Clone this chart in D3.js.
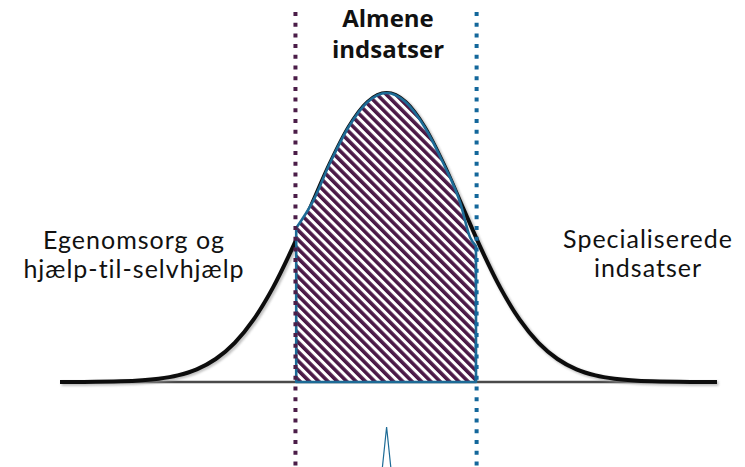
<!DOCTYPE html>
<html>
<head>
<meta charset="utf-8">
<script src="https://cdn.jsdelivr.net/npm/d3@7"></script>
<style>
  html, body { margin: 0; padding: 0; background: #fff; }
  svg { display: block; }
</style>
</head>
<body>
<svg id="chart" width="745" height="467"></svg>
<script>
// ---- data ----
// bell curve: position in standard units and relative height
const curveZ = [-4.3, -4, -3.5, -3, -2.75, -2.5, -2.25, -2, -1.75, -1.5, -1.25, -1, -0.75, -0.5, -0.25, 0,
                0.25, 0.5, 0.75, 1, 1.25, 1.5, 1.75, 2, 2.25, 2.5, 2.75, 3, 3.5, 4, 4.35];
const curveH = [0, 0.0003, 0.0022, 0.0111, 0.0228, 0.0439, 0.0796, 0.1353, 0.2165, 0.3247, 0.4578, 0.6065, 0.7548, 0.8825, 0.9692, 1,
                0.9692, 0.8825, 0.7548, 0.6065, 0.4578, 0.3247, 0.2165, 0.1353, 0.0796, 0.0439, 0.0228, 0.0111, 0.0022, 0.0003, 0];
// shaded "almene indsatser" band (outline as drawn)
const shadeZ = [-1.19, -0.97, -0.75, -0.5, -0.25, 0, 0.25, 0.5, 0.75, 0.97, 1.1, 1.177];
const shadeH = [0.533, 0.625, 0.755, 0.8825, 0.969, 1, 0.969, 0.8825, 0.755, 0.62, 0.50, 0.47];
// band boundaries (dotted lines)
const boundaryZ = [-1.2, 1.185];
const boundaryColors = ["#4b1d48", "#13679b"];
// labels
const titleLines = ["Almene", "indsatser"];
const leftLines = ["Egenomsorg og", "hjælp-til-selvhjælp"];
const rightLines = ["Specialiserede", "indsatser"];
// small mark below the axis
const spikeZ = [-0.055, 0, 0.055];
const spikeH = [0, 1, 0];

// ---- layout ----
const svg = d3.select("#chart");
const x = d3.scaleLinear().domain([-4.3, 4.35]).range([60, 717]);
const y = d3.scaleLinear().domain([0, 1]).range([382, 93]);

const defs = svg.append("defs");
const pat = defs.append("pattern")
  .attr("id", "hatch")
  .attr("patternUnits", "userSpaceOnUse")
  .attr("width", 6.6).attr("height", 6.6)
  .attr("patternTransform", "rotate(-45)");
pat.append("rect").attr("width", 6.6).attr("height", 6.6).attr("fill", "#fff");
pat.append("rect").attr("width", 3.6).attr("height", 6.6).attr("fill", "#4b1a47");

const blur = defs.append("filter").attr("id", "soft").attr("x", "-5%").attr("y", "-5%").attr("width", "110%").attr("height", "110%");
blur.append("feGaussianBlur").attr("stdDeviation", 1.2);

// baseline
svg.append("line")
  .attr("x1", x(-4.3)).attr("x2", x(4.35))
  .attr("y1", y(0)).attr("y2", y(0))
  .attr("stroke", "#4a4a4a").attr("stroke-width", 2.4);

// bell curve
const pts = curveZ.map((z, i) => [z, curveH[i]]);
const line = d3.line().x(d => x(d[0])).y(d => y(d[1])).curve(d3.curveMonotoneX);
svg.append("path").attr("d", line(pts))
  .attr("fill", "none").attr("stroke", "#999").attr("stroke-width", 5)
  .attr("filter", "url(#soft)").attr("transform", "translate(1.5,1.5)").attr("opacity", 0.6);
svg.append("path").attr("d", line(pts))
  .attr("fill", "none").attr("stroke", "#0d0d0d").attr("stroke-width", 4)
  .attr("stroke-linejoin", "round");

// shaded band
const sp = shadeZ.map((z, i) => [z, shadeH[i]]);
const area = d3.area().x(d => x(d[0])).y0(y(0)).y1(d => y(d[1])).curve(d3.curveMonotoneX);
svg.append("path").attr("d", area(sp))
  .attr("fill", "url(#hatch)")
  .attr("stroke", "#1d6b96").attr("stroke-width", 2.6).attr("stroke-linejoin", "round");

// dotted boundaries
svg.selectAll("line.bound").data(boundaryZ).join("line")
  .attr("class", "bound")
  .attr("x1", d => x(d)).attr("x2", d => x(d))
  .attr("y1", 12).attr("y2", 467)
  .attr("stroke", (d, i) => boundaryColors[i])
  .attr("stroke-width", 4)
  .attr("stroke-dasharray", "4,6.7");

// spike below axis
const ys = d3.scaleLinear().domain([0, 1]).range([467, 427]);
svg.append("path")
  .attr("d", d3.line().x(d => x(d[0])).y(d => ys(d[1]))(spikeZ.map((z, i) => [z, spikeH[i]])))
  .attr("fill", "none").attr("stroke", "#1d6b96").attr("stroke-width", 1.2);

// texts
function block(lines, cx, y0, dy, size, weight, ls, fam) {
  svg.append("g").selectAll("text").data(lines).join("text")
    .attr("x", cx).attr("y", (d, i) => y0 + i * dy)
    .attr("text-anchor", "middle")
    .attr("font-family", fam).attr("font-weight", weight)
    .attr("font-size", size).attr("letter-spacing", ls)
    .attr("fill", "#111")
    .text(d => d);
}
block(titleLines, 388, 27, 31, 24, 700, 0, "'Open Sans', sans-serif");
block(leftLines, 134, 249, 29, 25, 400, 1, "'Lato', 'Open Sans', sans-serif");
block(rightLines, 648, 248, 29, 25, 400, 1, "'Lato', 'Open Sans', sans-serif");
</script>
</body>
</html>
